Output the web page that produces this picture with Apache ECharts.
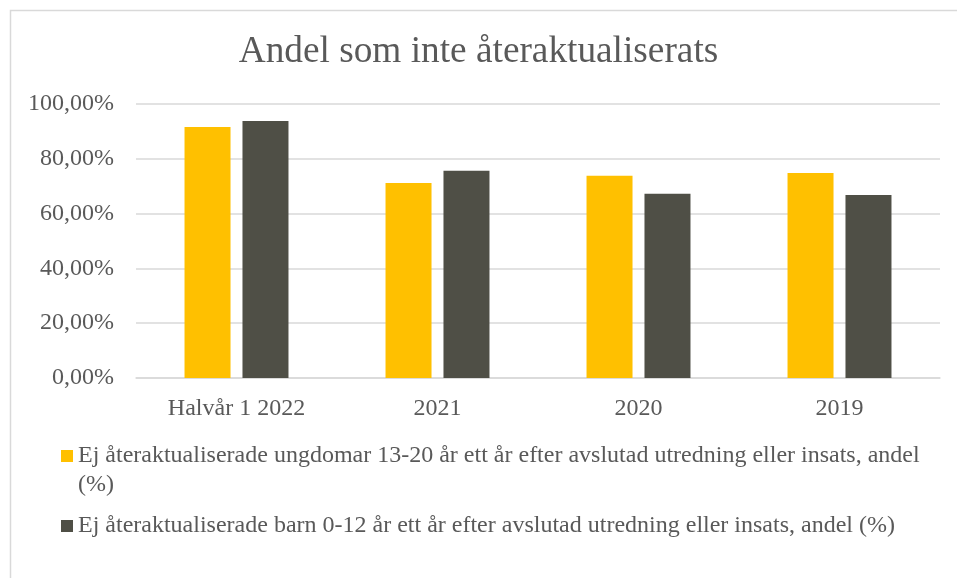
<!DOCTYPE html>
<html>
<head>
<meta charset="utf-8">
<script src="https://cdn.jsdelivr.net/npm/echarts@6/dist/echarts.min.js"></script>
<style>
  html, body { margin: 0; padding: 0; background: #fff; }
  #chart { width: 957px; height: 578px; }
</style>
</head>
<body>
<div id="chart"></div>
<script>
// data (percent)
const categories = ['Halvår 1 2022', '2021', '2020', '2019']
const ungdomar = [91.6, 71.2, 73.8, 74.8]
const barn = [93.8, 75.6, 67.2, 66.8]
const ungdomarName = 'Ej återaktualiserade ungdomar 13-20 år ett år efter avslutad utredning eller insats, andel (%)'
const barnName = 'Ej återaktualiserade barn 0-12 år ett år efter avslutad utredning eller insats, andel (%)'

const font = '"Liberation Serif", "Times New Roman", serif'
const textColor = '#595959'
const lineColor = '#d9d9d9'

const chart = echarts.init(document.getElementById('chart'))
chart.setOption({
  animation: false,
  textStyle: { fontFamily: font },
  title: {
    text: 'Andel som inte återaktualiserats',
    left: 'center',
    top: 34,
    padding: 0,
    textStyle: { fontFamily: font, fontSize: 37.3, fontWeight: 'normal', color: textColor }
  },
  graphic: [
    {
      type: 'rect',
      shape: { x: 10.5, y: 10.5, width: 1000, height: 1000 },
      style: { fill: 'none', stroke: lineColor, lineWidth: 1.5 },
      silent: true
    }
  ],
  legend: [
    {
      // tall invisible box so the square sits next to the first text line
      data: [ungdomarName],
      left: 61,
      top: 441.5,
      padding: 0,
      itemWidth: 12,
      itemHeight: 41,
      icon: 'path://M0,0L12,0L12,12L0,12Z M0,41L0,41',
      selectedMode: false,
      formatter: name => name.replace(' (%)', '\n(%)'),
      textStyle: {
        fontFamily: font,
        fontSize: 24,
        color: textColor,
        lineHeight: 29
      }
    },
    {
      data: [barnName],
      left: 61,
      top: 511.5,
      padding: 0,
      itemWidth: 12,
      itemHeight: 12,
      icon: 'rect',
      selectedMode: false,
      textStyle: {
        fontFamily: font,
        fontSize: 24,
        color: textColor,
        lineHeight: 29
      }
    }
  ],
  grid: {
    left: 136,
    right: 17,
    top: 104,
    bottom: 200
  },
  xAxis: {
    type: 'category',
    data: categories,
    axisTick: { show: false },
    axisLine: { lineStyle: { color: lineColor, width: 1.5 } },
    axisLabel: { fontFamily: font, fontSize: 24, color: textColor, margin: 19 }
  },
  yAxis: {
    type: 'value',
    min: 0,
    max: 100,
    interval: 20,
    axisLine: { show: false },
    axisTick: { show: false },
    splitLine: { lineStyle: { color: lineColor, width: 1.5 } },
    axisLabel: {
      fontFamily: font,
      fontSize: 24,
      color: textColor,
      margin: 22,
      padding: [5, 0, 0, 0],
      formatter: v => v.toFixed(2).replace('.', ',') + '%'
    }
  },
  series: [
    {
      name: ungdomarName,
      type: 'bar',
      data: ungdomar,
      barWidth: 46,
      barGap: '26%',
      itemStyle: { color: '#FFC000' }
    },
    {
      name: barnName,
      type: 'bar',
      data: barn,
      barWidth: 46,
      barGap: '26%',
      itemStyle: { color: '#4F4F46' }
    }
  ]
})
</script>
</body>
</html>
